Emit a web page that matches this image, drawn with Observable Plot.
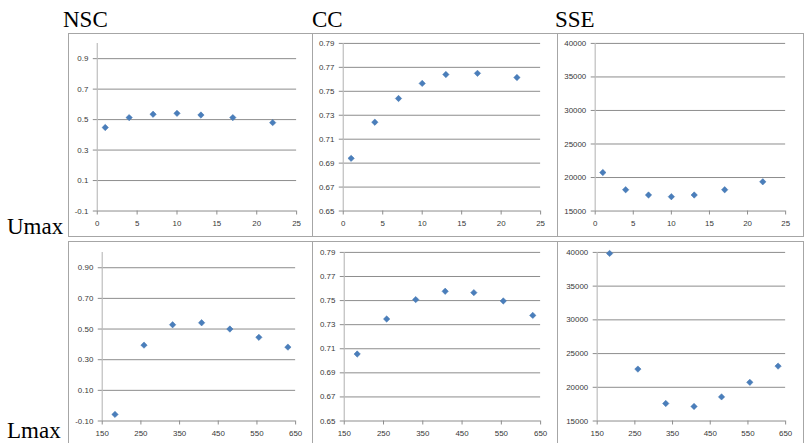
<!DOCTYPE html>
<html>
<head>
<meta charset="utf-8">
<script src="https://cdn.jsdelivr.net/npm/d3@7"></script>
<script src="https://cdn.jsdelivr.net/npm/@observablehq/plot@0.6"></script>
<style>
  html, body { margin: 0; padding: 0; background: #fff; width: 804px; height: 443px; overflow: hidden; }
  #root { position: relative; width: 804px; height: 443px; overflow: hidden; }
  .lbl { position: absolute; font-family: "Liberation Serif", "Times New Roman", serif; font-size: 23px; color: #000; line-height: 1; white-space: nowrap; }
  .box { position: absolute; border: 1px solid #a6a6a6; box-sizing: border-box; background: #fff; }
  .box svg { position: absolute; left: -1px; top: -1px; }
</style>
</head>
<body>
<div id="root"></div>
<script>
// ---- data ----
const colTitles = ["NSC", "CC", "SSE"];
const rowTitles = ["Umax", "Lmax"];

const xTopVals = [1, 4, 7, 10, 13, 17, 22];
const xBotVals = [183, 258, 332, 407, 480, 555, 630];

const nscUmax = [0.448, 0.513, 0.535, 0.541, 0.530, 0.513, 0.480];
const ccUmax  = [0.694, 0.7242, 0.744, 0.7566, 0.764, 0.765, 0.7615];
const sseUmax = [20740, 18175, 17390, 17140, 17390, 18175, 19360];

const nscLmax = [-0.057, 0.395, 0.528, 0.541, 0.500, 0.446, 0.382];
const ccLmax  = [0.7056, 0.7347, 0.7508, 0.7577, 0.7566, 0.7497, 0.7377];
const sseLmax = [39850, 22700, 17600, 17160, 18580, 20735, 23140];

const xTopTicks = [0, 5, 10, 15, 20, 25];
const xBotTicks = [150, 250, 350, 450, 550, 650];
const nscUTicks = [-0.1, 0.1, 0.3, 0.5, 0.7, 0.9];
const nscLTicks = [-0.1, 0.1, 0.3, 0.5, 0.7, 0.9];
const ccTicks   = [0.65, 0.67, 0.69, 0.71, 0.73, 0.75, 0.77, 0.79];
const sseTicks  = [15000, 20000, 25000, 30000, 35000, 40000];

// ---- layout ----
const root = document.getElementById("root");
function label(text, left, top) {
  const d = document.createElement("div");
  d.className = "lbl";
  d.textContent = text;
  d.style.left = left + "px";
  d.style.top = top + "px";
  root.appendChild(d);
}

function panel(p) {
  const box = document.createElement("div");
  box.className = "box";
  box.style.left = p.left + "px";
  box.style.top = p.top + "px";
  box.style.width = p.width + "px";
  box.style.height = p.height + "px";
  const data = p.xs.map((x, i) => ({x, y: p.ys[i]}));
  const chart = Plot.plot({
    width: p.width,
    height: p.height,
    marginLeft: p.ml, marginRight: p.mr, marginTop: p.mt, marginBottom: p.mb,
    style: {fontFamily: "'Liberation Sans', Arial, sans-serif", fontSize: "8px", color: "#383838", background: "transparent", overflow: "visible"},
    x: {domain: p.xDomain},
    y: {domain: p.yDomain},
    marks: [
      Plot.gridY(p.yTicks, {stroke: "#8c8c8c", strokeOpacity: 1}),
      Plot.ruleX([p.xDomain[0]], {stroke: "#bdbdbd", strokeWidth: 1.2}),
      Plot.axisX({ticks: p.xTicks, tickSize: 4, tickPadding: 5, stroke: "#8c8c8c", label: null, tickFormat: d => String(d)}),
      Plot.axisY({ticks: p.yTicks, tickSize: 4, tickPadding: 5, stroke: "#8c8c8c", label: null, tickFormat: p.fmt}),
      Plot.dot(data, {x: "x", y: "y", symbol: "diamond2", r: 2.9, fill: "#4A7EBB", stroke: "#3f72ad", strokeWidth: 0.5})
    ]
  });
  box.appendChild(chart);
  root.appendChild(box);
}

const f1 = d => d.toFixed(1);
const f2 = d => d.toFixed(2);
const f0 = d => String(d);

// top row
panel({left: 68, top: 33, width: 245, height: 204, ml: 29, mr: 15, mt: 10, mb: 25,
  xs: xTopVals, ys: nscUmax, xDomain: [0, 25], xTicks: xTopTicks, yDomain: [-0.1, 1.0], yTicks: nscUTicks, fmt: f1});
panel({left: 312, top: 33, width: 246, height: 204, ml: 31, mr: 16, mt: 10, mb: 25,
  xs: xTopVals, ys: ccUmax, xDomain: [0, 25], xTicks: xTopTicks, yDomain: [0.65, 0.79], yTicks: ccTicks, fmt: f2});
panel({left: 557, top: 33, width: 247, height: 204, ml: 38, mr: 17, mt: 10, mb: 25,
  xs: xTopVals, ys: sseUmax, xDomain: [0, 25], xTicks: xTopTicks, yDomain: [15000, 40000], yTicks: sseTicks, fmt: f0});

// bottom row
panel({left: 68, top: 241, width: 245, height: 206, ml: 34, mr: 16, mt: 11, mb: 25,
  xs: xBotVals, ys: nscLmax, xDomain: [150, 650], xTicks: xBotTicks, yDomain: [-0.1, 1.0], yTicks: nscLTicks, fmt: f2});
panel({left: 312, top: 241, width: 246, height: 206, ml: 32, mr: 16, mt: 11, mb: 25,
  xs: xBotVals, ys: ccLmax, xDomain: [150, 650], xTicks: xBotTicks, yDomain: [0.65, 0.79], yTicks: ccTicks, fmt: f2});
panel({left: 557, top: 241, width: 247, height: 206, ml: 40, mr: 17, mt: 11, mb: 25,
  xs: xBotVals, ys: sseLmax, xDomain: [150, 650], xTicks: xBotTicks, yDomain: [15000, 40000], yTicks: sseTicks, fmt: f0});

// titles
label(colTitles[0], 63, 8);
label(colTitles[1], 312, 8);
label(colTitles[2], 555, 8);
label(rowTitles[0], 7, 215);
label(rowTitles[1], 7, 419);
</script>
</body>
</html>
